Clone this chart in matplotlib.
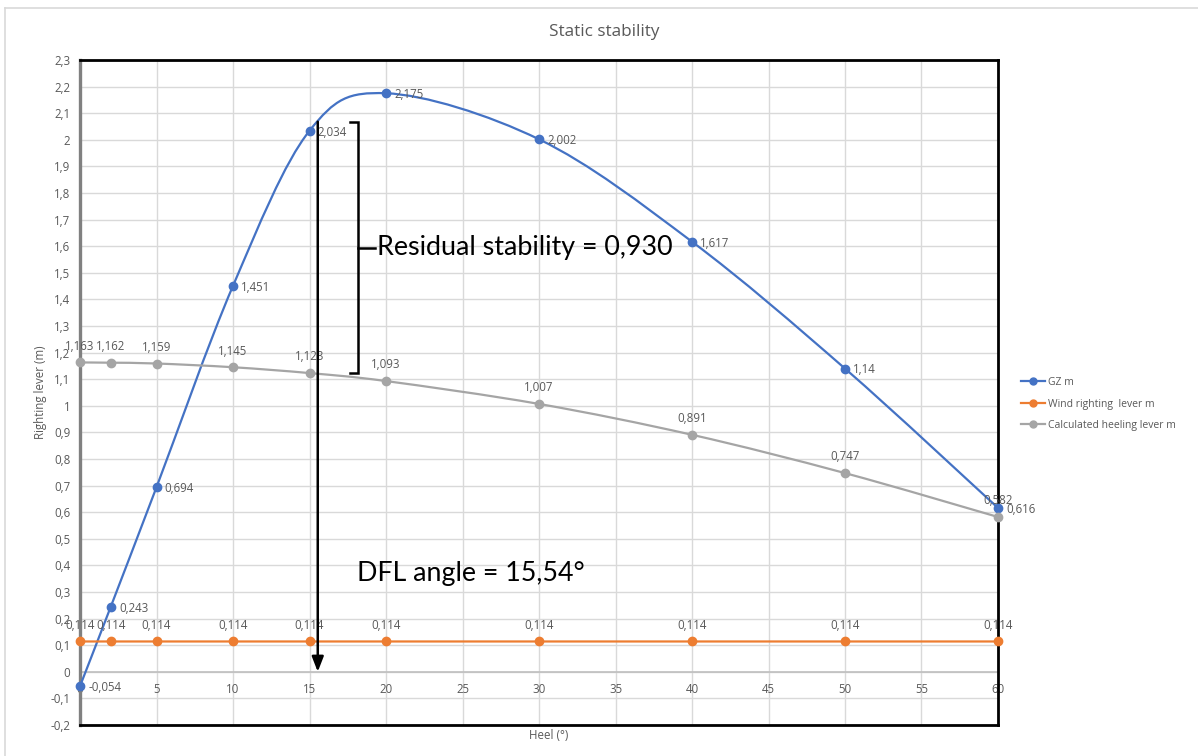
import numpy as np
import matplotlib
matplotlib.use("Agg")
import matplotlib.pyplot as plt
from matplotlib.path import Path
from matplotlib.patches import PathPatch
from matplotlib.lines import Line2D

# Heel angles (degrees) and lever arms (m)
heel = [0, 2, 5, 10, 15, 20, 30, 40, 50, 60]
gz = [-0.054, 0.243, 0.694, 1.451, 2.034, 2.175, 2.002, 1.617, 1.14, 0.616]
wind_lever = [0.114, 0.114, 0.114, 0.114, 0.114, 0.114, 0.114, 0.114, 0.114, 0.114]
heeling_lever = [1.163, 1.162, 1.159, 1.145, 1.123, 1.093, 1.007, 0.891, 0.747, 0.582]

series_names = ["GZ m", "Wind righting  lever m", "Calculated heeling lever m"]
series_colors = ["#4472C4", "#ED7D31", "#A5A5A5"]

dfl_angle = 15.54
arrow_top = 2.068
bracket_bottom = 1.123
residual_text = "0,930"

x_ticks = [0, 5, 10, 15, 20, 25, 30, 35, 40, 45, 50, 55, 60]
y_ticks = [round(-0.2 + 0.1 * i, 1) for i in range(26)]

FONT = ["Open Sans", "DejaVu Sans"]
BIG_FONT = ["Lato", "DejaVu Sans"]
plt.rcParams["font.family"] = FONT
LABEL_GREY = "#595959"
SMALL = 8.3


def fmt(v):
    s = f"{v:.3f}".rstrip("0").rstrip(".")
    return s.replace(".", ",")


def smooth_path(xs, ys):
    """Cubic Bezier through every point (Catmull-Rom style tangents)."""
    pts = np.column_stack([xs, ys]).astype(float)
    n = len(pts)
    verts = [pts[0]]
    codes = [Path.MOVETO]
    for i in range(n - 1):
        p0 = pts[i - 1] if i > 0 else pts[i]
        p1 = pts[i]
        p2 = pts[i + 1]
        p3 = pts[i + 2] if i + 2 < n else pts[i + 1]
        c1 = p1 + (p2 - p0) / 6.0
        c2 = p2 - (p3 - p1) / 6.0
        verts += [c1, c2, p2]
        codes += [Path.CURVE4] * 3
    return Path(verts, codes)


fig = plt.figure(figsize=(11.98, 7.56), dpi=100)
ax = fig.add_axes([80 / 1198, 1 - 725 / 756, 918 / 1198, 665 / 756])

# outer chart-area frame
fig.add_artist(Line2D([5 / 1198, 1.0], [1 - 8 / 756, 1 - 8 / 756],
                      transform=fig.transFigure, color="#d9d9d9", lw=1.2))
fig.add_artist(Line2D([5 / 1198, 5 / 1198], [0, 1 - 8 / 756],
                      transform=fig.transFigure, color="#d9d9d9", lw=1.2))

ax.set_xlim(0, 60)
ax.set_ylim(-0.2, 2.3)
ax.set_xticks(x_ticks)
ax.set_yticks(y_ticks)
ax.grid(True, color="#d9d9d9", lw=1.0, zorder=0)
ax.set_axisbelow(True)
ax.tick_params(length=0)
ax.set_xticklabels([])
ax.set_yticklabels([fmt(v) for v in y_ticks], color=LABEL_GREY, fontsize=SMALL)
ax.tick_params(axis="y", pad=7)

# horizontal axis crossing at zero, with its labels
ax.axhline(0, color="#bfbfbf", lw=1.2, zorder=1)
for xv in x_ticks:
    ax.annotate(str(xv), (xv, 0), xytext=(0, -8), textcoords="offset points",
                ha="center", va="top", fontsize=SMALL, color=LABEL_GREY, zorder=1)

for side in ["top", "right", "bottom"]:
    ax.spines[side].set_color("black")
    ax.spines[side].set_linewidth(2.0)
ax.spines["left"].set_color("#808080")
ax.spines["left"].set_linewidth(2.4)

all_series = [gz, wind_lever, heeling_lever]
for vals, color in zip(all_series, series_colors):
    ax.add_patch(PathPatch(smooth_path(heel, vals), facecolor="none",
                           edgecolor=color, lw=1.6, zorder=3, clip_on=False))
    ax.plot(heel, vals, ls="none", marker="o", ms=6, color=color,
            zorder=4, clip_on=False)

# data labels
for xv, yv in zip(heel, gz):
    ax.annotate(fmt(yv), (xv, yv), xytext=(6, -1), textcoords="offset points",
                ha="left", va="center", fontsize=SMALL, color=LABEL_GREY, zorder=5)
for xv, yv in zip(heel, wind_lever):
    ax.annotate(fmt(yv), (xv, yv), xytext=(0, 7), textcoords="offset points",
                ha="center", va="bottom", fontsize=SMALL, color=LABEL_GREY, zorder=5)
for xv, yv in zip(heel, heeling_lever):
    ax.annotate(fmt(yv), (xv, yv), xytext=(0, 7), textcoords="offset points",
                ha="center", va="bottom", fontsize=SMALL, color=LABEL_GREY, zorder=5)

# DFL angle arrow
ax.annotate("", xy=(dfl_angle, 0), xytext=(dfl_angle, arrow_top),
            arrowprops=dict(arrowstyle="-|>,head_length=0.9,head_width=0.35",
                            color="black", lw=1.8, shrinkA=0, shrinkB=0),
            zorder=6)
ax.text(18.1, 0.37, "DFL angle = 15,54°", fontsize=19.3, color="black",
        ha="left", va="center", family=BIG_FONT, zorder=6)

# residual stability bracket
bx = 18.15
hook = 0.5
bracket_mid = 1.595
ax.plot([bx - hook, bx, bx, bx - hook], [arrow_top, arrow_top, bracket_bottom, bracket_bottom],
        color="black", lw=1.8, zorder=6, solid_joinstyle="miter")
ax.plot([bx, bx + 1.1], [bracket_mid, bracket_mid], color="black", lw=1.8, zorder=6)
ax.text(bx + 1.25, bracket_mid, f"Residual stability = {residual_text}",
        fontsize=19.4, color="black", ha="left", va="center",
        family=BIG_FONT, zorder=6)

fig.text(604 / 1198, 1 - 32 / 756, "Static stability", ha="center", va="center",
         fontsize=12.3, color=LABEL_GREY)
ax.set_xlabel("Heel (°)", fontsize=SMALL, color=LABEL_GREY)
ax.xaxis.set_label_coords(0.51, -0.006)
ax.set_ylabel("Righting lever (m)", fontsize=SMALL, color=LABEL_GREY)
ax.yaxis.set_label_coords(-0.036, 0.5)

handles = [Line2D([], [], color=c, lw=1.6, marker="o", ms=5) for c in series_colors]
fig.legend(handles, series_names, loc="center left",
           bbox_to_anchor=(1012 / 1198, 1 - 404 / 756), frameon=False,
           fontsize=7.5, handlelength=2.3, handletextpad=0.3, labelspacing=1.0,
           labelcolor=LABEL_GREY)

fig.savefig("out.png", dpi=100)
